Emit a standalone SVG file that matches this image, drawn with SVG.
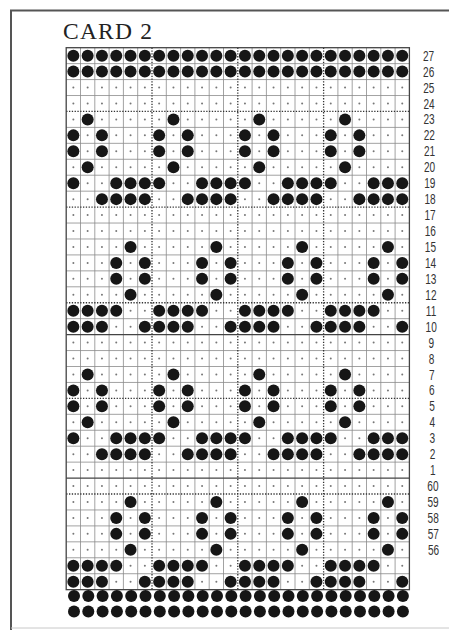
<svg xmlns="http://www.w3.org/2000/svg" width="449" height="630" viewBox="0 0 449 630">
<style>
.hole{fill:#161616}
.dot{fill:#777}
.grid{stroke:#8a8a8a;stroke-width:0.8;fill:none}
.heavy{stroke:#444;stroke-width:1.3;fill:none}
.dotted{stroke:#333;stroke-width:1.3;stroke-dasharray:1.3 1.5;fill:none}
.frame{stroke:#555;stroke-width:2;fill:none}
.title{font-family:"Liberation Serif","Times New Roman",serif;font-size:23.5px;fill:#222}
.lbl{font-family:"Liberation Sans",Arial,sans-serif;font-size:14px;fill:#333;text-anchor:middle}
</style>
<defs>
<circle id="H" r="6" class="hole"/>
<circle id="D" r="1" class="dot"/>
<g id="uA"><use href="#H" x="0"/><use href="#H" x="14.3"/><use href="#H" x="28.6"/><use href="#H" x="42.9"/><use href="#H" x="57.2"/><use href="#H" x="71.5"/></g>
<g id="uE"><use href="#D" x="0"/><use href="#D" x="14.3"/><use href="#D" x="28.6"/><use href="#D" x="42.9"/><use href="#D" x="57.2"/><use href="#D" x="71.5"/></g>
<g id="u1"><use href="#D" x="0"/><use href="#H" x="14.3"/><use href="#D" x="28.6"/><use href="#D" x="42.9"/><use href="#D" x="57.2"/><use href="#D" x="71.5"/></g>
<g id="u02"><use href="#H" x="0"/><use href="#D" x="14.3"/><use href="#H" x="28.6"/><use href="#D" x="42.9"/><use href="#D" x="57.2"/><use href="#D" x="71.5"/></g>
<g id="u0345"><use href="#H" x="0"/><use href="#D" x="14.3"/><use href="#D" x="28.6"/><use href="#H" x="42.9"/><use href="#H" x="57.2"/><use href="#H" x="71.5"/></g>
<g id="u2345"><use href="#D" x="0"/><use href="#D" x="14.3"/><use href="#H" x="28.6"/><use href="#H" x="42.9"/><use href="#H" x="57.2"/><use href="#H" x="71.5"/></g>
<g id="u4"><use href="#D" x="0"/><use href="#D" x="14.3"/><use href="#D" x="28.6"/><use href="#D" x="42.9"/><use href="#H" x="57.2"/><use href="#D" x="71.5"/></g>
<g id="u35"><use href="#D" x="0"/><use href="#D" x="14.3"/><use href="#D" x="28.6"/><use href="#H" x="42.9"/><use href="#D" x="57.2"/><use href="#H" x="71.5"/></g>
<g id="u0123"><use href="#H" x="0"/><use href="#H" x="14.3"/><use href="#H" x="28.6"/><use href="#H" x="42.9"/><use href="#D" x="57.2"/><use href="#D" x="71.5"/></g>
<g id="u0125"><use href="#H" x="0"/><use href="#H" x="14.3"/><use href="#H" x="28.6"/><use href="#D" x="42.9"/><use href="#D" x="57.2"/><use href="#H" x="71.5"/></g>
<g id="rA"><use href="#uA" x="0"/><use href="#uA" x="85.8"/><use href="#uA" x="171.6"/><use href="#uA" x="257.4"/></g>
<g id="rE"><use href="#uE" x="0"/><use href="#uE" x="85.8"/><use href="#uE" x="171.6"/><use href="#uE" x="257.4"/></g>
<g id="r1"><use href="#u1" x="0"/><use href="#u1" x="85.8"/><use href="#u1" x="171.6"/><use href="#u1" x="257.4"/></g>
<g id="r02"><use href="#u02" x="0"/><use href="#u02" x="85.8"/><use href="#u02" x="171.6"/><use href="#u02" x="257.4"/></g>
<g id="r0345"><use href="#u0345" x="0"/><use href="#u0345" x="85.8"/><use href="#u0345" x="171.6"/><use href="#u0345" x="257.4"/></g>
<g id="r2345"><use href="#u2345" x="0"/><use href="#u2345" x="85.8"/><use href="#u2345" x="171.6"/><use href="#u2345" x="257.4"/></g>
<g id="r4"><use href="#u4" x="0"/><use href="#u4" x="85.8"/><use href="#u4" x="171.6"/><use href="#u4" x="257.4"/></g>
<g id="r35"><use href="#u35" x="0"/><use href="#u35" x="85.8"/><use href="#u35" x="171.6"/><use href="#u35" x="257.4"/></g>
<g id="r0123"><use href="#u0123" x="0"/><use href="#u0123" x="85.8"/><use href="#u0123" x="171.6"/><use href="#u0123" x="257.4"/></g>
<g id="r0125"><use href="#u0125" x="0"/><use href="#u0125" x="85.8"/><use href="#u0125" x="171.6"/><use href="#u0125" x="257.4"/></g>
</defs>
<rect width="449" height="630" fill="#ffffff"/>
<g id="frame">
<path class="frame" d="M11 630 V10.5 H449"/>
<path d="M11 628 H449" stroke="#c8c8c8" stroke-width="1" fill="none"/>
</g>
<text id="title" class="title" x="63" y="38.5" textLength="89" lengthAdjust="spacing">CARD 2</text>
<g id="grid">
<path class="grid" d="M80.5 47.7V589.66M94.8 47.7V589.66M109.1 47.7V589.66M123.4 47.7V589.66M137.7 47.7V589.66M166.3 47.7V589.66M180.6 47.7V589.66M194.9 47.7V589.66M209.2 47.7V589.66M223.5 47.7V589.66M252.1 47.7V589.66M266.4 47.7V589.66M280.7 47.7V589.66M295 47.7V589.66M309.3 47.7V589.66M337.9 47.7V589.66M352.2 47.7V589.66M366.5 47.7V589.66M380.8 47.7V589.66M395.1 47.7V589.66"/>
<path class="grid" d="M66.2 63.64H409.4M66.2 79.58H409.4M66.2 95.52H409.4M66.2 127.4H409.4M66.2 143.34H409.4M66.2 159.28H409.4M66.2 175.22H409.4M66.2 191.16H409.4M66.2 223.04H409.4M66.2 238.98H409.4M66.2 254.92H409.4M66.2 270.86H409.4M66.2 286.8H409.4M66.2 318.68H409.4M66.2 350.56H409.4M66.2 366.5H409.4M66.2 382.44H409.4M66.2 414.32H409.4M66.2 430.26H409.4M66.2 446.2H409.4M66.2 462.14H409.4M66.2 509.96H409.4M66.2 525.9H409.4M66.2 541.84H409.4M66.2 557.78H409.4M66.2 573.72H409.4"/>
<path class="heavy" d="M66.2 334.62H409.4M66.2 478.08H409.4"/>
<path class="dotted" d="M152 47.7V589.66M237.8 47.7V589.66M323.6 47.7V589.66M66.2 111.46H409.4M66.2 207.1H409.4M66.2 302.74H409.4M66.2 398.38H409.4M66.2 494.02H409.4"/>
<rect class="heavy" x="66.2" y="47.7" width="343.2" height="541.96"/>
</g>
<g id="holes">
<use href="#rA" x="73.35" y="55.67"/>
<use href="#rA" x="73.35" y="71.61"/>
<use href="#rE" x="73.35" y="87.55"/>
<use href="#rE" x="73.35" y="103.49"/>
<use href="#r1" x="73.35" y="119.43"/>
<use href="#r02" x="73.35" y="135.37"/>
<use href="#r02" x="73.35" y="151.31"/>
<use href="#r1" x="73.35" y="167.25"/>
<use href="#r0345" x="73.35" y="183.19"/>
<use href="#r2345" x="73.35" y="199.13"/>
<use href="#rE" x="73.35" y="215.07"/>
<use href="#rE" x="73.35" y="231.01"/>
<use href="#r4" x="73.35" y="246.95"/>
<use href="#r35" x="73.35" y="262.89"/>
<use href="#r35" x="73.35" y="278.83"/>
<use href="#r4" x="73.35" y="294.77"/>
<use href="#r0123" x="73.35" y="310.71"/>
<use href="#r0125" x="73.35" y="326.65"/>
<use href="#rE" x="73.35" y="342.59"/>
<use href="#rE" x="73.35" y="358.53"/>
<use href="#r1" x="73.35" y="374.47"/>
<use href="#r02" x="73.35" y="390.41"/>
<use href="#r02" x="73.35" y="406.35"/>
<use href="#r1" x="73.35" y="422.29"/>
<use href="#r0345" x="73.35" y="438.23"/>
<use href="#r2345" x="73.35" y="454.17"/>
<use href="#rE" x="73.35" y="470.11"/>
<use href="#rE" x="73.35" y="486.05"/>
<use href="#r4" x="73.35" y="501.99"/>
<use href="#r35" x="73.35" y="517.93"/>
<use href="#r35" x="73.35" y="533.87"/>
<use href="#r4" x="73.35" y="549.81"/>
<use href="#r0123" x="73.35" y="565.75"/>
<use href="#r0125" x="73.35" y="581.69"/>
<use href="#rA" x="74" y="596"/>
<use href="#rA" x="74" y="611.5"/>
</g>
<g id="labels">
<text class="lbl" transform="translate(428.5,60.7) scale(0.72,1)">27</text>
<text class="lbl" transform="translate(428.7,76.6) scale(0.72,1)">26</text>
<text class="lbl" transform="translate(428.8,92.6) scale(0.72,1)">25</text>
<text class="lbl" transform="translate(429,108.5) scale(0.72,1)">24</text>
<text class="lbl" transform="translate(429.1,124.4) scale(0.72,1)">23</text>
<text class="lbl" transform="translate(429.3,140.4) scale(0.72,1)">22</text>
<text class="lbl" transform="translate(429.5,156.3) scale(0.72,1)">21</text>
<text class="lbl" transform="translate(429.6,172.3) scale(0.72,1)">20</text>
<text class="lbl" transform="translate(429.8,188.2) scale(0.72,1)">19</text>
<text class="lbl" transform="translate(430,204.1) scale(0.72,1)">18</text>
<text class="lbl" transform="translate(430.1,220.1) scale(0.72,1)">17</text>
<text class="lbl" transform="translate(430.3,236) scale(0.72,1)">16</text>
<text class="lbl" transform="translate(430.4,252) scale(0.72,1)">15</text>
<text class="lbl" transform="translate(430.6,267.9) scale(0.72,1)">14</text>
<text class="lbl" transform="translate(430.8,283.8) scale(0.72,1)">13</text>
<text class="lbl" transform="translate(430.9,299.8) scale(0.72,1)">12</text>
<text class="lbl" transform="translate(431.1,315.7) scale(0.72,1)">11</text>
<text class="lbl" transform="translate(431.2,331.7) scale(0.72,1)">10</text>
<text class="lbl" transform="translate(431.4,347.6) scale(0.72,1)">9</text>
<text class="lbl" transform="translate(431.6,363.5) scale(0.72,1)">8</text>
<text class="lbl" transform="translate(431.7,379.5) scale(0.72,1)">7</text>
<text class="lbl" transform="translate(431.9,395.4) scale(0.72,1)">6</text>
<text class="lbl" transform="translate(432,411.4) scale(0.72,1)">5</text>
<text class="lbl" transform="translate(432.2,427.3) scale(0.72,1)">4</text>
<text class="lbl" transform="translate(432.4,443.2) scale(0.72,1)">3</text>
<text class="lbl" transform="translate(432.5,459.2) scale(0.72,1)">2</text>
<text class="lbl" transform="translate(432.7,475.1) scale(0.72,1)">1</text>
<text class="lbl" transform="translate(432.9,491) scale(0.72,1)">60</text>
<text class="lbl" transform="translate(433,507) scale(0.72,1)">59</text>
<text class="lbl" transform="translate(433.2,522.9) scale(0.72,1)">58</text>
<text class="lbl" transform="translate(433.3,538.9) scale(0.72,1)">57</text>
<text class="lbl" transform="translate(433.5,554.8) scale(0.72,1)">56</text>
</g>
</svg>
